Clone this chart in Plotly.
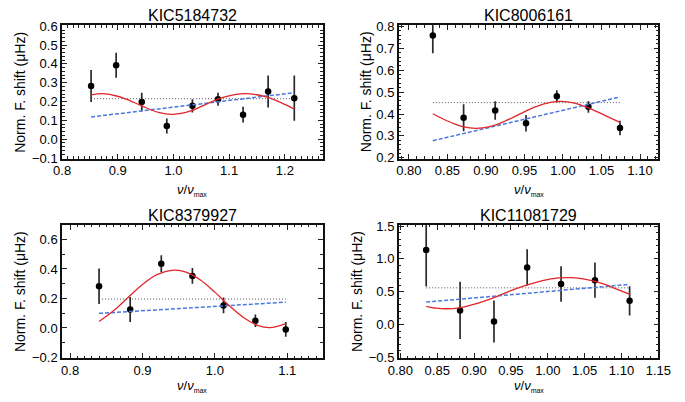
import plotly.graph_objects as go

# ---------------- data ----------------
titles = ["KIC5184732", "KIC8006161", "KIC8379927", "KIC11081729"]

# Panel 1: KIC5184732
p1_x = [0.852, 0.897, 0.943, 0.988, 1.034, 1.080, 1.125, 1.170, 1.217]
p1_y = [0.283, 0.393, 0.197, 0.070, 0.177, 0.212, 0.130, 0.253, 0.218]
p1_e = [0.085, 0.066, 0.050, 0.040, 0.035, 0.035, 0.042, 0.085, 0.120]
p1_mean = 0.215
p1_lin_x = [0.852, 1.217]
p1_lin_y = [0.118, 0.247]
p1_fit_x = [0.852, 0.872, 0.894, 0.916, 0.943, 0.973, 0.999, 1.031, 1.060, 1.089, 1.110, 1.129, 1.150, 1.170, 1.193, 1.217]
p1_fit_y = [0.235, 0.242, 0.232, 0.212, 0.177, 0.142, 0.132, 0.150, 0.188, 0.222, 0.237, 0.242, 0.236, 0.222, 0.194, 0.160]

# Panel 2: KIC8006161
p2_x = [0.831, 0.871, 0.912, 0.952, 0.992, 1.033, 1.074]
p2_y = [0.759, 0.383, 0.416, 0.358, 0.481, 0.433, 0.336]
p2_e = [0.082, 0.062, 0.042, 0.038, 0.028, 0.027, 0.033]
p2_mean = 0.452
p2_lin_x = [0.831, 1.074]
p2_lin_y = [0.278, 0.478]
p2_fit_x = [0.831, 0.850, 0.870, 0.887, 0.905, 0.925, 0.945, 0.965, 0.985, 0.997, 1.015, 1.035, 1.055, 1.074]
p2_fit_y = [0.401, 0.368, 0.342, 0.334, 0.342, 0.368, 0.402, 0.434, 0.454, 0.458, 0.450, 0.425, 0.393, 0.362]

# Panel 3: KIC8379927
p3_x = [0.840, 0.883, 0.926, 0.969, 1.012, 1.056, 1.098]
p3_y = [0.283, 0.125, 0.435, 0.353, 0.153, 0.049, -0.010]
p3_e = [0.120, 0.085, 0.058, 0.053, 0.053, 0.043, 0.050]
p3_mean = 0.196
p3_lin_x = [0.840, 1.098]
p3_lin_y = [0.099, 0.175]
p3_fit_x = [0.840, 0.860, 0.880, 0.900, 0.920, 0.944, 0.960, 0.980, 1.000, 1.020, 1.040, 1.060, 1.076, 1.098]
p3_fit_y = [0.044, 0.116, 0.206, 0.295, 0.361, 0.392, 0.378, 0.325, 0.243, 0.151, 0.069, 0.016, 0.002, 0.030]

# Panel 4: KIC11081729
p4_x = [0.835, 0.881, 0.927, 0.972, 1.018, 1.064, 1.111]
p4_y = [1.135, 0.217, 0.048, 0.870, 0.618, 0.676, 0.362]
p4_e = [0.555, 0.435, 0.320, 0.275, 0.270, 0.268, 0.222]
p4_mean = 0.560
p4_lin_x = [0.835, 1.111]
p4_lin_y = [0.343, 0.613]
p4_fit_x = [0.835, 0.849, 0.862, 0.880, 0.897, 0.915, 0.932, 0.950, 0.972, 0.993, 1.015, 1.033, 1.050, 1.068, 1.085, 1.102, 1.112]
p4_fit_y = [0.280, 0.251, 0.242, 0.256, 0.300, 0.362, 0.435, 0.517, 0.604, 0.671, 0.710, 0.715, 0.691, 0.647, 0.580, 0.502, 0.459]

panels = [
    dict(x=p1_x, y=p1_y, e=p1_e, mean=p1_mean, lx=p1_lin_x, ly=p1_lin_y, fx=p1_fit_x, fy=p1_fit_y),
    dict(x=p2_x, y=p2_y, e=p2_e, mean=p2_mean, lx=p2_lin_x, ly=p2_lin_y, fx=p2_fit_x, fy=p2_fit_y),
    dict(x=p3_x, y=p3_y, e=p3_e, mean=p3_mean, lx=p3_lin_x, ly=p3_lin_y, fx=p3_fit_x, fy=p3_fit_y),
    dict(x=p4_x, y=p4_y, e=p4_e, mean=p4_mean, lx=p4_lin_x, ly=p4_lin_y, fx=p4_fit_x, fy=p4_fit_y),
]

# ---------------- layout geometry (pixels) ----------------
W, H = 685, 402
boxes = [  # x0, x1, ytop, ybottom in pixels
    (53, 323, 20, 158),
    (402, 671, 20, 158),
    (53, 323, 226, 364),
    (402, 671, 226, 364),
]
xranges = [[0.8, 1.268], [0.787, 1.124], [0.789, 1.149], [0.798, 1.1502]]
yranges = [[-0.105, 0.605], [0.195, 0.805], [-0.205, 0.70], [-0.51, 1.52]]
xdt = [0.1, 0.05, 0.1, 0.05]
xminor = [0.01, 0.01, 0.01, 0.01]
xfmt = [".1f", ".2f", ".1f", ".2f"]
ydt = [0.1, 0.1, 0.2, 0.5]
yminor = [0.02, 0.02, 0.1, 0.1]
ytitle_x = [9, 368, 10, 359]
xtitle_off = [32, 32, 29, 29]

FONT = "Liberation Sans, Arial, Helvetica, sans-serif"
fig = go.Figure()
layout = dict(width=W, height=H, margin=dict(l=0, r=0, t=0, b=0),
              paper_bgcolor="white", plot_bgcolor="white", showlegend=False,
              font=dict(family=FONT, size=13, color="black"))
annotations = []

for i, p in enumerate(panels):
    k = "" if i == 0 else str(i + 1)
    xa, ya = "x" + k, "y" + k
    x0, x1, yt, yb = boxes[i]
    common = dict(showline=True, linecolor="#111", linewidth=1.8, mirror="allticks",
                  ticks="inside", ticklen=5, tickwidth=1, tickcolor="#222",
                  showgrid=False, zeroline=False,
                  tickfont=dict(family=FONT, size=13, color="black"))
    layout["xaxis" + k] = dict(common, domain=[x0 / W, x1 / W], range=xranges[i], anchor=ya,
                               dtick=xdt[i], tick0=0, tickformat=xfmt[i], ticklabelstandoff=-1,
                               minor=dict(ticks="inside", ticklen=2.5, dtick=xminor[i], tick0=0,
                                          tickcolor="#222", showgrid=False))
    layout["yaxis" + k] = dict(common, domain=[1 - yb / H, 1 - yt / H], range=yranges[i], anchor=xa,
                               dtick=ydt[i], tick0=0, tickformat=".1f",
                               minor=dict(ticks="inside", ticklen=2.5, dtick=yminor[i], tick0=0,
                                          tickcolor="#222", showgrid=False))
    # data points with error bars
    fig.add_trace(go.Scatter(x=p["x"], y=p["y"], mode="markers", xaxis=xa, yaxis=ya,
                             marker=dict(color="black", size=6.5),
                             error_y=dict(type="data", array=p["e"], visible=True,
                                          color="#2a2a2a", thickness=1.7, width=0)))
    # mean level (dotted grey)
    fig.add_trace(go.Scatter(x=[p["x"][0], p["x"][-1]], y=[p["mean"], p["mean"]], mode="lines",
                             xaxis=xa, yaxis=ya, line=dict(color="#555", width=1, dash="1px,2px")))
    # linear fit (dashed blue)
    fig.add_trace(go.Scatter(x=p["lx"], y=p["ly"], mode="lines", xaxis=xa, yaxis=ya,
                             line=dict(color="#4a78e0", width=1.5, dash="4px,2px")))
    # oscillatory fit (red)
    fig.add_trace(go.Scatter(x=p["fx"], y=p["fy"], mode="lines", xaxis=xa, yaxis=ya,
                             line=dict(color="#e0262a", width=1.3, shape="spline")))

    cx = (x0 + x1) / 2
    annotations.append(dict(text=titles[i], x=cx / W, y=1 - (yt - 10) / H, xref="paper", yref="paper",
                            showarrow=False, xanchor="center", yanchor="middle",
                            font=dict(family=FONT, size=16, color="black")))
    annotations.append(dict(text="<i>ν</i>/<i>ν</i><sub><span style='font-size:7px'>max</span></sub>",
                            x=cx / W, y=1 - (yb + xtitle_off[i]) / H, xref="paper", yref="paper",
                            showarrow=False, xanchor="center", yanchor="middle",
                            font=dict(family=FONT, size=13, color="black")))
    annotations.append(dict(text="Norm. F. shift (μHz)", x=ytitle_x[i] / W, y=1 - ((yt + yb) / 2) / H,
                            xref="paper", yref="paper", showarrow=False, textangle=-90,
                            xanchor="center", yanchor="middle",
                            font=dict(family=FONT, size=14, color="black")))

layout["annotations"] = annotations
fig.update_layout(**layout)
fig.write_html("out.html", config={"displayModeBar": False},
               post_script="document.body.style.margin='0';document.body.style.overflow='hidden';")
